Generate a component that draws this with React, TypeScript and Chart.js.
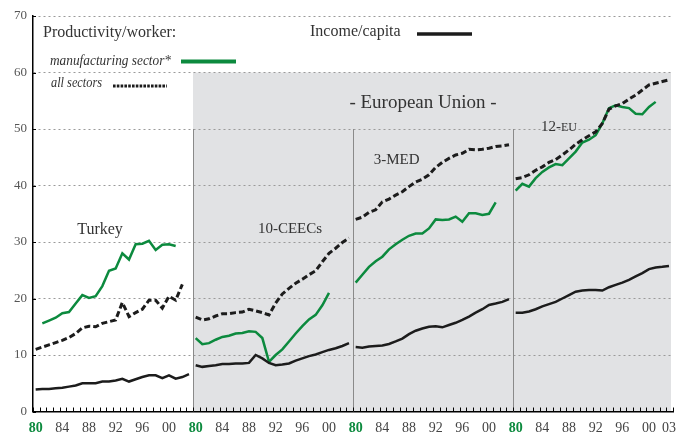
import React, { useEffect, useRef } from 'react';
import { Chart, registerables } from 'chart.js';

Chart.register(...registerables);

// ---------- data ----------
const YEARS = [1980, 1981, 1982, 1983, 1984, 1985, 1986, 1987, 1988, 1989, 1990, 1991, 1992, 1993, 1994, 1995, 1996, 1997, 1998, 1999, 2000, 2001, 2002, 2003];
const PANELS = ['Turkey', '10-CEECs', '3-MED', '12-EU'];
const TICK_LABELS = ['80', '84', '88', '92', '96', '00'];
const LAST_TICK_LABEL = '03';

const turkeyIncome = [3.9, 4.0, 4.0, 4.1, 4.2, 4.4, 4.6, 5.0, 5.0, 5.0, 5.3, 5.3, 5.5, 5.8, 5.3, 5.7, 6.1, 6.4, 6.4, 5.9, 6.4, 5.8, 6.1, 6.6];
const turkeyManuf = [null, 15.6, 16.1, 16.6, 17.4, 17.6, 19.1, 20.6, 20.1, 20.4, 22.2, 24.9, 25.3, 28.0, 26.9, 29.6, 29.7, 30.2, 28.6, 29.5, 29.6, 29.3, null, null];
const turkeyAll = [11.0, 11.4, 11.8, 12.2, 12.6, 13.1, 13.8, 14.8, 15.1, 15.0, 15.6, 15.9, 16.2, 19.3, 16.8, 17.5, 18.1, 19.7, 19.7, 18.3, 20.4, 19.7, 22.5, null];

const ceecIncome = [8.2, 7.9, 8.05, 8.2, 8.4, 8.4, 8.5, 8.5, 8.6, 10.0, 9.4, 8.6, 8.2, 8.3, 8.5, 9.0, 9.4, 9.8, 10.1, 10.5, 10.9, 11.2, 11.6, 12.1];
const ceecManuf = [13.0, 11.9, 12.1, 12.7, 13.2, 13.4, 13.8, 13.9, 14.2, 14.1, 13.0, 8.8, 10.0, 11.0, 12.4, 13.8, 15.1, 16.3, 17.1, 18.8, 21.0, null, null, null];
const ceecAll = [16.7, 16.2, 16.4, 16.9, 17.3, 17.3, 17.5, 17.6, 18.1, 17.8, 17.5, 17.1, 19.2, 20.8, 21.8, 22.7, 23.4, 24.2, 24.9, 26.5, 28.0, 28.9, 29.9, 30.7];

const medIncome = [11.4, 11.3, 11.5, 11.6, 11.7, 11.95, 12.4, 12.9, 13.7, 14.3, 14.7, 15.0, 15.1, 14.9, 15.3, 15.7, 16.2, 16.8, 17.5, 18.1, 18.85, 19.1, 19.4, 19.9];
const medManuf = [22.8, 24.2, 25.6, 26.6, 27.4, 28.7, 29.6, 30.4, 31.1, 31.5, 31.5, 32.4, 34.0, 33.9, 34.0, 34.5, 33.6, 35.1, 35.1, 34.8, 35.0, 37.0, null, null];
const medAll = [34.0, 34.4, 35.25, 35.7, 37.1, 37.6, 38.3, 38.9, 39.8, 40.6, 41.1, 41.9, 43.2, 44.1, 44.8, 45.4, 45.7, 46.4, 46.3, 46.4, 46.6, 46.9, 47.0, 47.2];

const euIncome = [17.5, 17.5, 17.7, 18.1, 18.6, 19.0, 19.4, 20.0, 20.6, 21.2, 21.4, 21.5, 21.5, 21.4, 22.0, 22.4, 22.8, 23.3, 23.9, 24.5, 25.2, 25.5, 25.6, 25.75];
const euManuf = [39.1, 40.3, 39.8, 41.3, 42.4, 43.2, 43.8, 43.6, 44.8, 46.0, 47.6, 48.1, 48.9, 51.0, 53.7, 54.2, 53.9, 53.7, 52.7, 52.6, 53.9, 54.8, null, null];
const euAll = [41.2, 41.4, 41.9, 42.7, 43.3, 44.1, 44.6, 45.4, 46.3, 47.3, 48.1, 48.8, 49.5, 51.0, 53.5, 54.1, 54.5, 55.3, 56.0, 56.9, 57.8, 58.1, 58.4, 58.7];

const INCOME = [turkeyIncome, ceecIncome, medIncome, euIncome];
const MANUF = [turkeyManuf, ceecManuf, medManuf, euManuf];
const ALL = [turkeyAll, ceecAll, medAll, euAll];

const GREEN = '#0c8a3e';
const BLACK = '#1c1c1c';
const GRAY_BG = '#e1e2e4';
const FONT = "'Liberation Serif', 'DejaVu Serif', serif";
const TEXT = '#333333';

const PANEL_SPAN = YEARS.length; // 24 year slots per panel
const SLOT_OFFSET = 0.4;

function xOf(panel: number, yearIdx: number) {
  return panel * PANEL_SPAN + yearIdx + SLOT_OFFSET;
}

function series(panel: number, values: (number | null)[]) {
  const pts: { x: number; y: number }[] = [];
  values.forEach((v, i) => {
    if (v !== null) pts.push({ x: xOf(panel, i), y: v });
  });
  return pts;
}

const tickDefs: { value: number; label: string }[] = [];
PANELS.forEach((_, p) => {
  TICK_LABELS.forEach((lab) => {
    const yr = lab === '00' ? 2000 : 1900 + Number(lab);
    tickDefs.push({ value: xOf(p, YEARS.indexOf(yr)), label: lab });
  });
});
tickDefs.push({ value: xOf(3, YEARS.indexOf(2003)), label: LAST_TICK_LABEL });

const decorPlugin = {
  id: 'decor',
  beforeDraw(chart: any) {
    const { ctx, scales } = chart;
    const x = scales.x;
    const y = scales.y;
    ctx.save();
    ctx.fillStyle = '#ffffff';
    ctx.fillRect(0, 0, chart.width, chart.height);
    const x0 = x.getPixelForValue(PANEL_SPAN);
    const x1 = x.getPixelForValue(PANEL_SPAN * 4) - 2;
    const yt = y.getPixelForValue(60);
    const yb = y.getPixelForValue(0);
    ctx.fillStyle = GRAY_BG;
    ctx.fillRect(x0, yt, x1 - x0, yb - yt);
    ctx.restore();
  },
  beforeDatasetsDraw(chart: any) {
    const { ctx, scales } = chart;
    const x = scales.x;
    const y = scales.y;
    ctx.save();
    // panel separators
    ctx.strokeStyle = '#8a8a8a';
    ctx.lineWidth = 1;
    for (let p = 1; p < 4; p++) {
      const px = Math.round(x.getPixelForValue(p * PANEL_SPAN)) + 0.5;
      ctx.beginPath();
      ctx.moveTo(px, y.getPixelForValue(50));
      ctx.lineTo(px, y.getPixelForValue(0));
      ctx.stroke();
    }
    // minor year ticks (inside)
    ctx.strokeStyle = '#000';
    const yb = y.getPixelForValue(0);
    for (let v = 0; v <= PANEL_SPAN * 4; v++) {
      const px = Math.round(x.getPixelForValue(v)) + 0.5;
      ctx.beginPath();
      ctx.moveTo(px, yb);
      ctx.lineTo(px, yb - 4);
      ctx.stroke();
    }
    // y inner ticks
    for (let v = 0; v <= 70; v += 10) {
      const py = Math.round(y.getPixelForValue(v)) + 0.5;
      ctx.beginPath();
      ctx.moveTo(x.left, py);
      ctx.lineTo(x.left + 3, py);
      ctx.stroke();
    }
    ctx.restore();
  },
  afterDraw(chart: any) {
    const { ctx, scales } = chart;
    const x = scales.x;
    const y = scales.y;
    ctx.save();
    ctx.fillStyle = TEXT;
    ctx.textBaseline = 'middle';

    // legend
    ctx.textAlign = 'left';
    ctx.font = `16px ${FONT}`;
    ctx.fillText('Productivity/worker:', 43, 33, 137);
    ctx.fillText('Income/capita', 310, 32, 95);
    ctx.font = `italic 15px ${FONT}`;
    ctx.fillText('manufacturing sector*', 50, 61, 121);
    ctx.fillText('all sectors', 51, 83, 51);

    ctx.lineCap = 'butt';
    ctx.strokeStyle = GREEN;
    ctx.lineWidth = 4;
    ctx.beginPath(); ctx.moveTo(181, 61.5); ctx.lineTo(236, 61.5); ctx.stroke();

    ctx.strokeStyle = BLACK;
    ctx.lineWidth = 3.5;
    ctx.beginPath(); ctx.moveTo(417, 34); ctx.lineTo(472, 34); ctx.stroke();

    ctx.lineWidth = 3;
    ctx.setLineDash([2.6, 1.2]);
    ctx.beginPath(); ctx.moveTo(113, 86); ctx.lineTo(167, 86); ctx.stroke();
    ctx.setLineDash([]);

    // panel labels
    ctx.textAlign = 'center';
    ctx.font = `16px ${FONT}`;
    ctx.fillText(PANELS[0], x.getPixelForValue(10.05), y.getPixelForValue(32.1));
    ctx.font = `15px ${FONT}`;
    ctx.fillText(PANELS[1], x.getPixelForValue(38.55), y.getPixelForValue(32.25));
    ctx.fillText(PANELS[2], x.getPixelForValue(54.55), y.getPixelForValue(44.5));
    // 12-EU with small caps EU
    {
      const cx = x.getPixelForValue(78.9);
      const cy = y.getPixelForValue(50.4);
      ctx.font = `15px ${FONT}`;
      const w1 = ctx.measureText('12-').width;
      ctx.font = `12px ${FONT}`;
      const w2 = ctx.measureText('EU').width;
      const sx = cx - (w1 + w2) / 2;
      ctx.textAlign = 'left';
      ctx.font = `15px ${FONT}`;
      ctx.fillText('12-', sx, cy);
      ctx.font = `12px ${FONT}`;
      ctx.fillText('EU', sx + w1, cy + 1);
    }
    ctx.textAlign = 'center';
    ctx.font = `19px ${FONT}`;
    ctx.fillText('- European Union -', x.getPixelForValue(58.5), y.getPixelForValue(54.65));
    ctx.restore();
  },
};

export default function App() {
  const ref = useRef<HTMLCanvasElement | null>(null);

  useEffect(() => {
    document.body.style.margin = '0';
    const canvas = ref.current;
    if (!canvas) return;

    const datasets: any[] = [];
    for (let p = 0; p < 4; p++) {
      datasets.push({
        label: `Income ${PANELS[p]}`,
        data: series(p, INCOME[p]),
        borderColor: BLACK,
        borderWidth: 2.5,
        pointRadius: 0,
        tension: 0,
      });
      datasets.push({
        label: `All ${PANELS[p]}`,
        data: series(p, ALL[p]),
        borderColor: BLACK,
        borderWidth: 3,
        borderDash: [6, 3],
        pointRadius: 0,
        tension: 0,
      });
      datasets.push({
        label: `Manuf ${PANELS[p]}`,
        data: series(p, MANUF[p]),
        borderColor: GREEN,
        borderWidth: 2.5,
        pointRadius: 0,
        tension: 0,
      });
    }

    const chart = new Chart(canvas, {
      type: 'line',
      data: { datasets },
      plugins: [decorPlugin],
      options: {
        animation: false,
        responsive: false,
        devicePixelRatio: 1,
        layout: { padding: { top: 16, right: 15, left: 0, bottom: 0 } },
        plugins: { legend: { display: false }, tooltip: { enabled: false } },
        scales: {
          x: {
            type: 'linear',
            min: 0,
            max: PANEL_SPAN * 4,
            afterBuildTicks: (scale: any) => {
              scale.ticks = tickDefs.map((t) => ({ value: t.value }));
            },
            afterFit: (scale: any) => {
              scale.height = 25.5;
            },
            grid: { display: false, drawTicks: false },
            border: { display: true, color: '#000', width: 1.5 },
            ticks: {
              autoSkip: false,
              maxRotation: 0,
              padding: 8,
              callback: (_v: any, i: number) => tickDefs[i] ? tickDefs[i].label : '',
              color: (c: any) => (c.tick && c.tick.label === '80' ? GREEN : '#444'),
              font: (c: any) => ({
                family: FONT,
                size: 14,
                weight: c.tick && c.tick.label === '80' ? 'bold' : 'normal',
              }),
            },
          },
          y: {
            min: 0,
            max: 70,
            afterFit: (scale: any) => {
              scale.width = 33;
            },
            ticks: {
              stepSize: 10,
              padding: 6,
              color: '#555',
              font: { family: FONT, size: 13 },
            },
            grid: { color: '#9a9a9a', lineWidth: 1, drawTicks: false },
            border: { display: true, color: '#000', width: 1.5, dash: [2, 3] },
          },
        },
      },
    });
    return () => chart.destroy();
  }, []);

  return (
    <div style={{ width: 688, height: 437 }}>
      <canvas ref={ref} width={688} height={437} style={{ display: 'block' }} />
    </div>
  );
}
